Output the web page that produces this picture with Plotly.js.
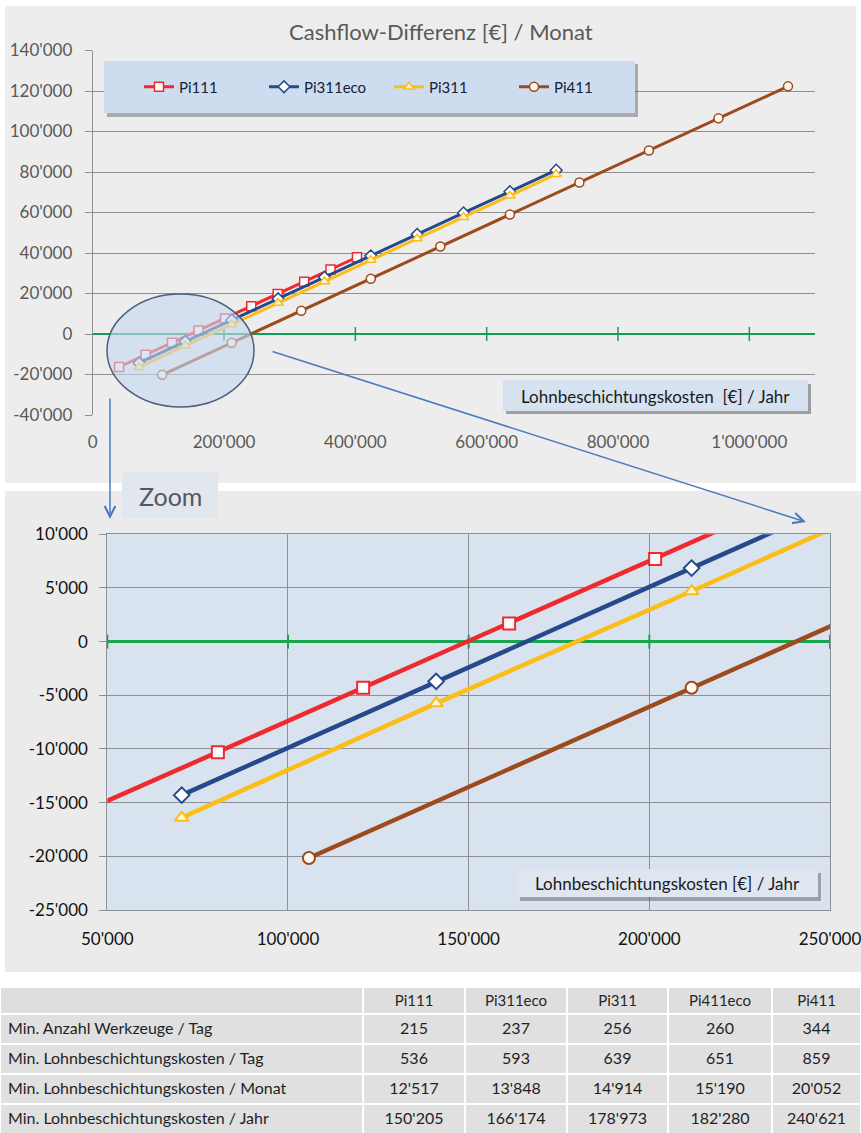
<!DOCTYPE html>
<html><head><meta charset="utf-8">
<script src="https://cdn.plot.ly/plotly-3.0.1.min.js"></script>
<style>html,body{margin:0;padding:0;background:#fff}#chart{width:861px;height:1133px}</style>
</head><body><div id="chart"></div>
<script>
// ---------- data ----------
const seriesNames = ['Pi111', 'Pi311eco', 'Pi311', 'Pi411'];
const pi111X = [40200, 80600, 120800, 161200, 201600, 241500, 281700, 322000, 362200, 402500];
const pi111Y = [-16300, -10300, -4300, 1700, 7700, 13700, 19800, 25800, 31800, 37900];
const pi311ecoX = [70600, 141000, 211700, 282300, 352900, 423500, 494100, 564700, 635300, 705900];
const pi311ecoY = [-14300, -3700, 6850, 17400, 28000, 38600, 49200, 59800, 70300, 80900];
const pi311X = [70600, 141000, 211700, 282300, 352900, 423500, 494100, 564700, 635300, 705900];
const pi311Y = [-16400, -5750, 4700, 15300, 25900, 36500, 47100, 57700, 68300, 78900];
const pi411X = [105800, 211700, 317600, 423500, 529400, 635300, 741200, 847100, 953000, 1058900];
const pi411Y = [-20150, -4300, 11500, 27300, 43200, 59000, 74800, 90600, 106500, 122300];

const topXTicks = [0, 200000, 400000, 600000, 800000, 1000000];
const topXLabels = ["0", "200'000", "400'000", "600'000", "800'000", "1'000'000"];
const topYTicks = [-40000, -20000, 0, 20000, 40000, 60000, 80000, 100000, 120000, 140000];
const topYLabels = ["-40'000", "-20'000", "0", "20'000", "40'000", "60'000", "80'000", "100'000", "120'000", "140'000"];
const zoomXTicks = [50000, 100000, 150000, 200000, 250000];
const zoomXLabels = ["50'000", "100'000", "150'000", "200'000", "250'000"];
const zoomYTicks = [-25000, -20000, -15000, -10000, -5000, 0, 5000, 10000];
const zoomYLabels = ["-25'000", "-20'000", "-15'000", "-10'000", "-5'000", "0", "5'000", "10'000"];

const tableModels = ['Pi111', 'Pi311eco', 'Pi311', 'Pi411eco', 'Pi411'];
const tableRowLabels = ['Min. Anzahl Werkzeuge / Tag', 'Min. Lohnbeschichtungskosten / Tag',
  'Min. Lohnbeschichtungskosten / Monat', 'Min. Lohnbeschichtungskosten / Jahr'];
const minWerkzeugeTag = ['215', '237', '256', '260', '344'];
const minKostenTag = ['536', '593', '639', '651', '859'];
const minKostenMonat = ["12'517", "13'848", "14'914", "15'190", "20'052"];
const minKostenJahr = ["150'205", "166'174", "178'973", "182'280", "240'621"];

const titleText = 'Cashflow-Differenz [€] / Monat';
const xTitleTop = 'Lohnbeschichtungskosten\u00a0 [€] / Jahr';
const xTitleZoom = 'Lohnbeschichtungskosten [€] / Jahr';

// ---------- styling ----------
const W = 861, H = 1133;
const px = p => p / W;
const py = p => 1 - p / H;
const FONT = 'Lato, "Liberation Sans", sans-serif';
const colors = ['#ef2a2e', '#25498a', '#fbbd16', '#9d4b1d'];
const symbols = ['square', 'diamond', 'triangle-up', 'circle'];
const fills = ['#ffffff', '#ffffff', '#fff6dc', '#fff8f2'];
const xs = [pi111X, pi311ecoX, pi311X, pi411X];
const ys = [pi111Y, pi311ecoY, pi311Y, pi411Y];

const traces = [];
// zero-line tick marks
traces.push({x: topXTicks.slice(1), y: topXTicks.slice(1).map(() => 0), xaxis: 'x', yaxis: 'y',
  mode: 'markers', marker: {symbol: 'line-ns', size: 10, line: {color: '#139e55', width: 1.5}},
  showlegend: false, hoverinfo: 'skip', cliponaxis: false});
traces.push({x: zoomXTicks, y: zoomXTicks.map(() => 0), xaxis: 'x2', yaxis: 'y2',
  mode: 'markers', marker: {symbol: 'line-ns', size: 10, line: {color: '#16a64d', width: 2}},
  showlegend: false, hoverinfo: 'skip', cliponaxis: false});

for (let i = 0; i < 4; i++) {
  traces.push({x: xs[i], y: ys[i], name: seriesNames[i], xaxis: 'x', yaxis: 'y',
    mode: 'lines+markers', line: {color: colors[i], width: 3},
    marker: {symbol: symbols[i], size: 9, color: fills[i], line: {color: colors[i], width: 1.5}}});
}
for (let i = 0; i < 4; i++) {
  traces.push({x: xs[i], y: ys[i], name: seriesNames[i], xaxis: 'x2', yaxis: 'y2',
    mode: 'lines+markers', line: {color: colors[i], width: 4.5}, showlegend: false,
    marker: {symbol: symbols[i], size: 12, color: fills[i], line: {color: colors[i], width: 2}}});
}

const tableCols = tableModels.map((m, j) => [minWerkzeugeTag[j], minKostenTag[j], minKostenMonat[j], minKostenJahr[j]]);
traces.push({
  type: 'table', domain: {x: [0, 1], y: [0, py(987)]},
  columnwidth: [363, 102, 102, 101, 104, 89],
  header: {values: [''].concat(tableModels), height: 27, align: ['left', 'center'],
    fill: {color: '#dedede'}, line: {color: '#ffffff', width: 2},
    font: {family: FONT, size: 15, color: '#262626'}},
  cells: {values: [tableRowLabels].concat(tableCols), height: 30, align: ['left', 'center'],
    fill: {color: '#e0e0e0'}, line: {color: '#ffffff', width: 2},
    font: {family: FONT, size: 16, color: '#1f1f1f'}}
});

const gridTop = '#8f8f8f', gridZoom = '#8a8f98';
const layout = {
  width: W, height: H, margin: {l: 0, r: 0, t: 0, b: 0},
  paper_bgcolor: '#ffffff', plot_bgcolor: 'rgba(0,0,0,0)',
  font: {family: FONT, color: '#595959'},
  showlegend: true,
  legend: {orientation: 'h', x: px(139), xanchor: 'left', y: py(87), yanchor: 'middle',
    bgcolor: 'rgba(0,0,0,0)', font: {family: FONT, size: 15, color: '#16213a'},
    entrywidth: 80, entrywidthmode: 'pixels'},
  xaxis: {domain: [px(92.7), px(815)], range: [0, 1100000], anchor: 'y',
    tickvals: topXTicks, ticktext: topXLabels, showgrid: false, zeroline: false, showline: false,
    ticks: '', tickfont: {size: 17, color: '#595959'}, ticklabelstandoff: 15, ticklabeloverflow: 'allow'},
  yaxis: {domain: [py(415), py(50.5)], range: [-40000, 140000], anchor: 'x',
    tickvals: topYTicks, ticktext: topYLabels, showgrid: true, gridcolor: gridTop, gridwidth: 1,
    zeroline: true, zerolinecolor: '#139e55', zerolinewidth: 2,
    showline: true, linecolor: gridTop, ticks: 'outside', ticklen: 7, tickcolor: gridTop,
    tickfont: {size: 17, color: '#595959'}, ticklabelstandoff: 9},
  xaxis2: {domain: [px(107.3), px(830)], range: [50000, 250000], anchor: 'y2',
    tickvals: zoomXTicks, ticktext: zoomXLabels, showgrid: true, gridcolor: gridZoom,
    zeroline: false, showline: true, mirror: true, linecolor: gridZoom, ticks: '',
    tickfont: {size: 17, color: '#111111'}, ticklabelstandoff: 14, ticklabeloverflow: 'allow'},
  yaxis2: {domain: [py(910), py(534.3)], range: [-25000, 10000], anchor: 'x2',
    tickvals: zoomYTicks, ticktext: zoomYLabels, showgrid: true, gridcolor: gridZoom,
    zeroline: true, zerolinecolor: '#16a64d', zerolinewidth: 3.5,
    showline: true, mirror: true, linecolor: gridZoom, ticks: 'outside', ticklen: 7, tickcolor: gridZoom,
    tickfont: {size: 17, color: '#111111'}, ticklabelstandoff: 8},
  shapes: [
    // panels
    {type: 'rect', xref: 'paper', yref: 'paper', x0: px(5), x1: px(856), y0: py(483), y1: py(6),
      fillcolor: '#ededed', line: {width: 0}, layer: 'below'},
    {type: 'rect', xref: 'paper', yref: 'paper', x0: px(5), x1: 1, y0: py(972), y1: py(491),
      fillcolor: '#ebebeb', line: {width: 0}, layer: 'below'},
    {type: 'rect', xref: 'paper', yref: 'paper', x0: px(122), x1: px(218), y0: py(518), y1: py(472),
      fillcolor: '#e2e7ee', line: {width: 0}, layer: 'below'},
    // zoom plot background
    {type: 'rect', xref: 'x2 domain', yref: 'y2 domain', x0: 0, x1: 1, y0: 0, y1: 1,
      fillcolor: '#d9e3ef', line: {width: 0}, layer: 'below'},
    // legend box + shadow
    {type: 'rect', xref: 'paper', yref: 'paper', x0: px(107), x1: px(638), y0: py(117), y1: py(64),
      fillcolor: 'rgba(90,90,90,0.45)', line: {width: 0}, layer: 'above'},
    {type: 'rect', xref: 'paper', yref: 'paper', x0: px(104), x1: px(635), y0: py(113), y1: py(61),
      fillcolor: '#cddcef', line: {width: 0}, layer: 'above'},
    // ellipse
    {type: 'circle', xref: 'paper', yref: 'paper', x0: px(107), x1: px(254), y0: py(407), y1: py(294),
      fillcolor: 'rgba(198,216,240,0.62)', line: {color: '#4b5e7e', width: 1.5}, layer: 'above'},
    // top x-title box
    {type: 'rect', xref: 'paper', yref: 'paper', x0: px(506), x1: px(811), y0: py(414), y1: py(384),
      fillcolor: 'rgba(80,80,80,0.5)', line: {width: 0}, layer: 'above'},
    {type: 'rect', xref: 'paper', yref: 'paper', x0: px(503), x1: px(808), y0: py(411), y1: py(380),
      fillcolor: '#d7e2f0', line: {width: 0}, layer: 'above'},
    // zoom x-title box
    {type: 'rect', xref: 'paper', yref: 'paper', x0: px(520), x1: px(821), y0: py(901), y1: py(873),
      fillcolor: 'rgba(80,80,80,0.45)', line: {width: 0}, layer: 'above'},
    {type: 'rect', xref: 'paper', yref: 'paper', x0: px(517), x1: px(818), y0: py(897), y1: py(869),
      fillcolor: '#dfe6ef', line: {width: 0}, layer: 'above'}
  ],
  annotations: [
    {text: titleText, xref: 'paper', yref: 'paper', x: px(441), y: py(32), xanchor: 'center', yanchor: 'middle',
      showarrow: false, font: {family: FONT, size: 22, color: '#595959'}},
    {text: xTitleTop, xref: 'paper', yref: 'paper', x: px(655.5), y: py(396), xanchor: 'center', yanchor: 'middle',
      showarrow: false, font: {family: FONT, size: 17, color: '#1a1a1a'}},
    {text: xTitleZoom, xref: 'paper', yref: 'paper', x: px(667.5), y: py(883), xanchor: 'center', yanchor: 'middle',
      showarrow: false, font: {family: FONT, size: 17, color: '#1a1a1a'}},
    {text: 'Zoom', xref: 'paper', yref: 'paper', x: px(170), y: py(496), xanchor: 'center', yanchor: 'middle',
      showarrow: false, font: {family: FONT, size: 25, color: '#505866'}},
    {text: '', xref: 'paper', yref: 'paper', x: px(110), y: py(519), ax: 0, ay: -122,
      showarrow: true, arrowhead: 5, arrowsize: 1.4, arrowwidth: 1.5, arrowcolor: '#4a7bbd', standoff: 0},
    {text: '', xref: 'paper', yref: 'paper', x: px(806), y: py(522), ax: -535, ay: -171,
      showarrow: true, arrowhead: 5, arrowsize: 1.4, arrowwidth: 1.5, arrowcolor: '#4a7bbd', standoff: 0}
  ]
};

Plotly.newPlot('chart', traces, layout, {staticPlot: true, displayModeBar: false});
</script>
</body></html>
